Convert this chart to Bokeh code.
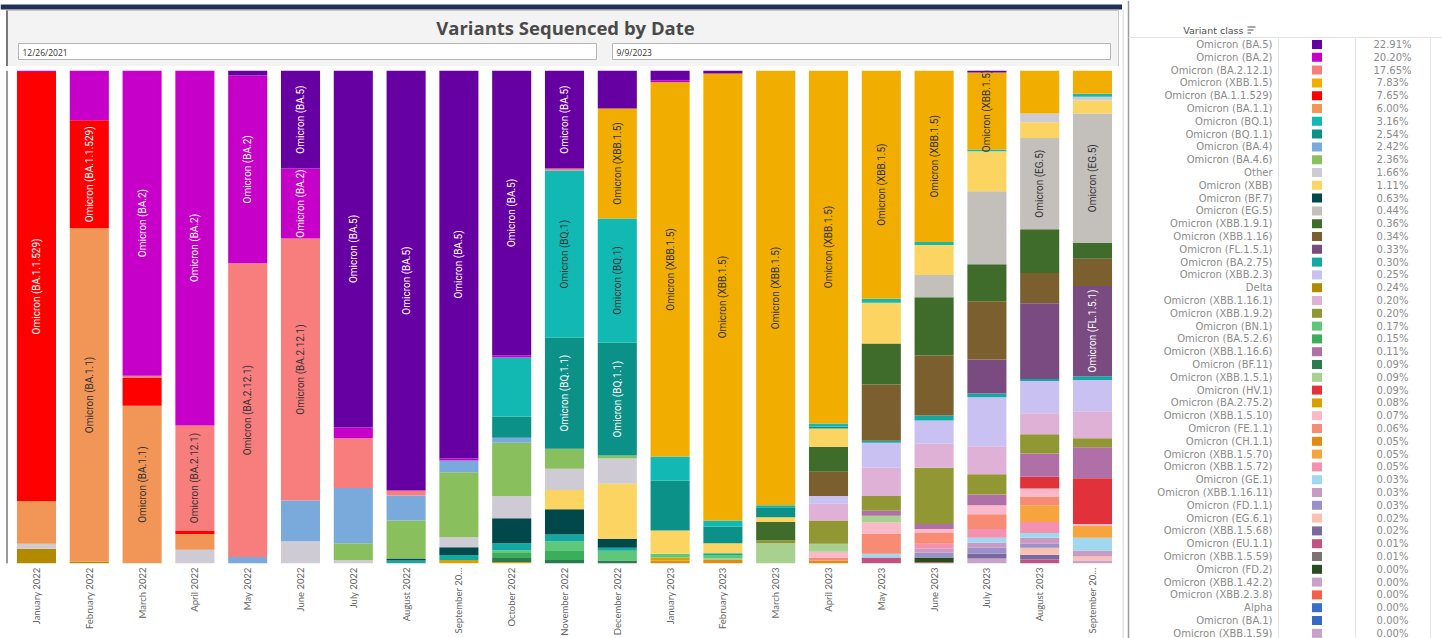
from math import pi
from bokeh.plotting import figure
from bokeh.layouts import row, column
from bokeh.models import ColumnDataSource, Range1d, FixedTicker
from bokeh.core.properties import value
from bokeh.embed import file_html
from bokeh.resources import INLINE

# ---------------- data ----------------
MONTHS = ["January 2022", "February 2022", "March 2022", "April 2022", "May 2022",
          "June 2022", "July 2022", "August 2022", "September 2022", "October 2022",
          "November 2022", "December 2022", "January 2023", "February 2023",
          "March 2023", "April 2023", "May 2023", "June 2023", "July 2023",
          "August 2023", "September 2023"]
MONTH_TICK_TEXT = {"September 2022": "September 20\u2026",
                   "September 2023": "September 20\u2026"}

VARIANTS = ["BA.5", "BA.2", "BA.2.12.1", "XBB.1.5", "BA.1.1.529", "BA.1.1", "BQ.1",
            "BQ.1.1", "BA.4", "BA.4.6", "Other", "XBB", "BF.7", "EG.5", "XBB.1.9.1",
            "XBB.1.16", "FL.1.5.1", "BA.2.75", "XBB.2.3", "Delta", "XBB.1.16.1",
            "XBB.1.9.2", "BN.1", "BA.5.2.6", "XBB.1.16.6", "BF.11", "XBB.1.5.1",
            "HV.1", "BA.2.75.2", "XBB.1.5.10", "FE.1.1", "CH.1.1", "XBB.1.5.70",
            "XBB.1.5.72", "GE.1", "XBB.1.16.11", "FD.1.1", "EG.6.1", "XBB.1.5.68",
            "EU.1.1", "XBB.1.5.59", "FD.2", "XBB.1.42.2", "XBB.2.3.8", "Alpha",
            "BA.1", "XBB.1.59"]
NON_OMICRON = {"Other", "Delta", "Alpha"}

COLORS = ["#6700a3", "#c700c9", "#f87e7e", "#f1ae00", "#ff0000", "#f29658", "#12b9b3",
          "#0c9188", "#7aaadc", "#8abf5e", "#cfcbd4", "#fcd462", "#01484a", "#c3bfbb",
          "#3f6b2b", "#7b5f2f", "#7a4b80", "#13a9a3", "#c9c1f1", "#b28a00", "#e0b1d6",
          "#919733", "#5fc77a", "#3aae5b", "#b06fa6", "#2a7b4f", "#a8d08e", "#e1323b",
          "#d9a000", "#f9b9c9", "#f78b73", "#e28b12", "#f8a43e", "#f391b1", "#a1d7ef",
          "#c99ac4", "#9a91c9", "#f8c1b3", "#79699f", "#c2527f", "#7a7273", "#2b4b22",
          "#c9a2c9", "#f26049", "#3a6fc9", "#3869c2", "#c8a2c8"]

SHARES = [22.91, 20.20, 17.65, 7.83, 7.65, 6.00, 3.16, 2.54, 2.42, 2.36, 1.66, 1.11,
          0.63, 0.44, 0.36, 0.34, 0.33, 0.30, 0.25, 0.24, 0.20, 0.20, 0.17, 0.15,
          0.11, 0.09, 0.09, 0.09, 0.08, 0.07, 0.06, 0.05, 0.05, 0.05, 0.03, 0.03,
          0.03, 0.02, 0.02, 0.01, 0.01, 0.00, 0.00, 0.00, 0.00, 0.00, 0.00]

JAN_22 = {"BA.2": 0.3, "BA.1.1.529": 87.0, "BA.1.1": 8.7, "Other": 1.0, "Delta": 3.0}
FEB_22 = {"BA.2": 10.1, "BA.1.1.529": 21.9, "BA.1.1": 67.6, "Delta": 0.4}
MAR_22 = {"BA.2": 61.9, "BA.2.12.1": 0.4, "BA.1.1.529": 5.7, "BA.1.1": 32.0}
APR_22 = {"BA.2": 72.0, "BA.2.12.1": 21.3, "BA.1.1.529": 0.7, "BA.1.1": 3.2, "Other": 2.8}
MAY_22 = {"BA.5": 1.0, "BA.2": 38.1, "BA.2.12.1": 59.6, "BA.4": 1.3}
JUN_22 = {"BA.5": 19.9, "BA.2": 14.2, "BA.2.12.1": 53.1, "BA.4": 8.3, "Other": 4.5}
JUL_22 = {"BA.5": 72.4, "BA.2": 2.2, "BA.2.12.1": 10.1, "BA.4": 11.2, "BA.4.6": 3.4,
          "Other": 0.7}
AUG_22 = {"BA.5": 85.2, "BA.2.12.1": 1.0, "BA.4": 5.1, "BA.4.6": 7.7, "BF.7": 0.4,
          "BA.2.75": 0.6}
SEP_22 = {"BA.5": 78.7, "BA.2": 0.4, "BA.4": 2.4, "BA.4.6": 13.2, "Other": 2.0,
          "BF.7": 1.6, "BA.2.75": 1.0, "BA.2.75.2": 0.7}
OCT_22 = {"BA.5": 57.8, "BA.2": 0.4, "BQ.1": 12.0, "BQ.1.1": 4.3, "BA.4": 1.0,
          "BA.4.6": 10.8, "Other": 4.5, "BF.7": 5.1, "BA.2.75": 1.4, "BN.1": 0.4,
          "BA.5.2.6": 1.2, "BF.11": 0.8, "BA.2.75.2": 0.3}
NOV_22 = {"BA.5": 19.9, "BA.2.12.1": 0.4, "BQ.1": 33.9, "BQ.1.1": 22.5, "BA.4.6": 4.1,
          "Other": 4.3, "XBB": 3.9, "BF.7": 5.1, "BA.2.75": 1.4, "BN.1": 1.8,
          "BA.5.2.6": 2.0, "BF.11": 0.7}
DEC_22 = {"BA.5": 7.7, "XBB.1.5": 22.3, "BQ.1": 25.2, "BQ.1.1": 22.9, "BA.4.6": 0.6,
          "Other": 5.1, "XBB": 11.2, "BF.7": 1.8, "BA.2.75": 0.6, "BN.1": 2.0,
          "BF.11": 0.6}
JAN_23 = {"BA.5": 2.0, "BA.2": 0.4, "XBB.1.5": 75.9, "BQ.1": 4.9, "BQ.1.1": 10.1,
          "XBB": 4.7, "BN.1": 0.8, "BA.2.75.2": 0.6, "CH.1.1": 0.6}
FEB_23 = {"BA.5": 0.6, "XBB.1.5": 90.7, "BQ.1": 1.2, "BQ.1.1": 3.4, "XBB": 2.0,
          "BA.2.75": 0.4, "BN.1": 0.6, "XBB.1.5.1": 0.4, "CH.1.1": 0.7}
MAR_23 = {"XBB.1.5": 88.2, "BQ.1": 0.4, "BQ.1.1": 2.0, "XBB": 1.0, "XBB.1.9.1": 3.7,
          "XBB.1.9.2": 0.6, "XBB.1.5.1": 4.1}
APR_23 = {"XBB.1.5": 71.6, "BQ.1": 0.6, "BQ.1.1": 0.4, "XBB": 3.7, "XBB.1.9.1": 5.1,
          "XBB.1.16": 4.9, "XBB.2.3": 1.6, "XBB.1.16.1": 3.4, "XBB.1.9.2": 4.7,
          "XBB.1.5.1": 1.6, "XBB.1.5.10": 1.2, "FE.1.1": 0.6, "CH.1.1": 0.6}
MAY_23 = {"XBB.1.5": 46.3, "BQ.1": 0.8, "XBB": 8.3, "XBB.1.9.1": 8.3, "XBB.1.16": 11.4,
          "BA.2.75": 0.4, "XBB.2.3": 5.1, "XBB.1.16.1": 5.7, "XBB.1.9.2": 3.0,
          "XBB.1.16.6": 1.0, "XBB.1.5.1": 1.4, "XBB.1.5.10": 2.2, "FE.1.1": 4.1,
          "GE.1": 0.8, "EU.1.1": 1.2}
JUN_23 = {"XBB.1.5": 34.8, "BQ.1": 0.6, "XBB": 6.1, "EG.5": 4.5, "XBB.1.9.1": 11.8,
          "XBB.1.16": 12.2, "BA.2.75": 1.0, "XBB.2.3": 4.7, "XBB.1.16.1": 4.9,
          "XBB.1.9.2": 11.4, "XBB.1.16.6": 1.0, "XBB.1.5.10": 0.8, "FE.1.1": 2.2,
          "XBB.1.5.72": 1.0, "XBB.1.16.11": 0.8, "FD.1.1": 1.0, "FD.2": 1.0,
          "XBB.2.3.8": 0.2}
JUL_23 = {"BA.5": 0.4, "XBB.1.5": 15.6, "BQ.1": 0.4, "XBB": 8.1, "EG.5": 14.8,
          "XBB.1.9.1": 7.5, "XBB.1.16": 11.8, "FL.1.5.1": 6.9, "BA.2.75": 0.8,
          "XBB.2.3": 9.9, "XBB.1.16.1": 5.7, "XBB.1.9.2": 4.1, "XBB.1.16.6": 2.2,
          "XBB.1.5.10": 1.8, "FE.1.1": 3.0, "XBB.1.5.72": 1.8, "GE.1": 1.0,
          "XBB.1.16.11": 1.0, "FD.1.1": 1.2, "XBB.1.5.68": 1.0, "XBB.1.42.2": 1.0}
AUG_23 = {"XBB.1.5": 8.7, "Other": 1.8, "XBB": 3.2, "EG.5": 18.5, "XBB.1.9.1": 8.9,
          "XBB.1.16": 6.1, "FL.1.5.1": 15.4, "BA.2.75": 0.4, "XBB.2.3": 6.5,
          "XBB.1.16.1": 4.3, "XBB.1.9.2": 3.9, "XBB.1.16.6": 4.7, "HV.1": 2.4,
          "XBB.1.5.10": 1.6, "FE.1.1": 1.8, "XBB.1.5.70": 3.4, "XBB.1.5.72": 2.2,
          "GE.1": 1.0, "XBB.1.16.11": 1.2, "FD.1.1": 0.8, "EG.6.1": 1.4,
          "XBB.1.5.68": 1.0, "EU.1.1": 0.8}
SEP_23 = {"XBB.1.5": 4.7, "BQ.1": 0.6, "Other": 0.8, "XBB": 2.6, "EG.5": 26.3,
          "XBB.1.9.1": 3.2, "XBB.1.16": 5.5, "FL.1.5.1": 18.3, "BA.2.75": 0.8,
          "XBB.2.3": 6.3, "XBB.1.16.1": 5.5, "XBB.1.9.2": 1.8, "XBB.1.16.6": 6.3,
          "HV.1": 9.3, "XBB.1.5.10": 0.4, "XBB.1.5.70": 2.4, "GE.1": 2.6,
          "XBB.1.16.11": 1.2, "EG.6.1": 0.8, "XBB.1.42.2": 0.6}

MONTH_MIX = [JAN_22, FEB_22, MAR_22, APR_22, MAY_22, JUN_22, JUL_22, AUG_22, SEP_22,
             OCT_22, NOV_22, DEC_22, JAN_23, FEB_23, MAR_23, APR_23, MAY_23, JUN_23,
             JUL_23, AUG_23, SEP_23]

LABELED = [("January 2022", "BA.1.1.529"), ("February 2022", "BA.1.1.529"),
           ("February 2022", "BA.1.1"), ("March 2022", "BA.2"), ("March 2022", "BA.1.1"),
           ("April 2022", "BA.2"), ("April 2022", "BA.2.12.1"), ("May 2022", "BA.2"),
           ("May 2022", "BA.2.12.1"), ("June 2022", "BA.5"), ("June 2022", "BA.2"),
           ("June 2022", "BA.2.12.1"), ("July 2022", "BA.5"), ("August 2022", "BA.5"),
           ("September 2022", "BA.5"), ("October 2022", "BA.5"),
           ("November 2022", "BA.5"), ("November 2022", "BQ.1"),
           ("November 2022", "BQ.1.1"), ("December 2022", "XBB.1.5"),
           ("December 2022", "BQ.1"), ("December 2022", "BQ.1.1"),
           ("January 2023", "XBB.1.5"), ("February 2023", "XBB.1.5"),
           ("March 2023", "XBB.1.5"), ("April 2023", "XBB.1.5"), ("May 2023", "XBB.1.5"),
           ("June 2023", "XBB.1.5"), ("July 2023", "XBB.1.5"), ("August 2023", "EG.5"),
           ("September 2023", "EG.5"), ("September 2023", "FL.1.5.1")]


def display_name(code):
    return code if code in NON_OMICRON else f"Omicron ({code})"


def is_dark(hex_color):
    r, g, b = (int(hex_color[i:i + 2], 16) for i in (1, 3, 5))
    return 0.299 * r + 0.587 * g + 0.114 * b < 128


# normalise each month to 100 %
values = []
for code in VARIANTS:
    values.append([mix.get(code, 0.0) * 100.0 / sum(mix.values()) for mix in MONTH_MIX])

idx = list(range(len(MONTHS)))
data = {"idx": idx}
for i in range(len(VARIANTS)):
    data[f"v{i}"] = values[i]
src = ColumnDataSource(data)

# ---------------- layout constants (pixels) ----------------
LEFT_W = 1122
HDR_H = 66
BARS_H = 638 - HDR_H
FIRST_CENTER_PX = 36.0
STEP_PX = 52.8

# ---------------- header ----------------
hdr = figure(width=LEFT_W, height=HDR_H, x_range=Range1d(0, LEFT_W),
             y_range=Range1d(HDR_H, 0), output_backend="svg", toolbar_location=None,
             x_axis_location=None, y_axis_location=None, min_border=0)
hdr.outline_line_color = None
hdr.grid.visible = False
hdr.quad(left=[0], right=[1128], top=[4], bottom=[9], fill_color="#24305a",
         line_color=None)
hdr.quad(left=[6], right=[1118], top=[10], bottom=[HDR_H + 2], fill_color="#f3f3f3",
         line_color="#c8c8c8", line_width=1)
hdr.segment(x0=[6.5], y0=[10], x1=[6.5], y1=[HDR_H], line_color="#555555", line_width=1.5)
hdr.text(x=[565], y=[27], text=["Variants Sequenced by Date"], text_align="center",
         text_baseline="middle", text_font=value("Open Sans"), text_font_style="bold",
         text_font_size="18.5px", text_color="#4a4a4a")
hdr.quad(left=[18, 612], right=[596, 1110], top=[43, 43], bottom=[59, 59],
         fill_color="#ffffff", line_color="#b5b5b5", line_width=1)
hdr.text(x=[22, 616], y=[51.5, 51.5], text=["12/26/2021", "9/9/2023"], text_align="left",
         text_baseline="middle", text_font=value("Open Sans"), text_font_size="8.5px",
         text_color="#333333")

# ---------------- bars ----------------
x_lo = (0 - FIRST_CENTER_PX) / STEP_PX
x_hi = (LEFT_W - FIRST_CENTER_PX) / STEP_PX
p = figure(x_range=Range1d(x_lo, x_hi), y_range=Range1d(0, 100), width=LEFT_W,
           height=BARS_H, output_backend="svg", toolbar_location=None,
           y_axis_location=None, min_border_left=0, min_border_right=0,
           min_border_top=4, min_border_bottom=BARS_H - 4 - 493)
p.outline_line_color = None
p.grid.visible = False
p.background_fill_color = "#ffffff"
p.border_fill_color = "#ffffff"

stackers = [f"v{i}" for i in reversed(range(len(VARIANTS)))]
p.vbar_stack(stackers, x="idx", width=0.74, source=src,
             fill_color=list(reversed(COLORS)), line_color=None)
p.segment(x0=[(6.5 - FIRST_CENTER_PX) / STEP_PX], y0=[0],
          x1=[(6.5 - FIRST_CENTER_PX) / STEP_PX], y1=[100],
          line_color="#777777", line_width=1.5)

lab_x, lab_y, lab_t, lab_c = [], [], [], []
for month, code in LABELED:
    mi = MONTHS.index(month)
    vi = VARIANTS.index(code)
    below = sum(values[j][mi] for j in range(vi + 1, len(VARIANTS)))
    lab_x.append(mi)
    lab_y.append(below + values[vi][mi] / 2.0)
    lab_t.append(display_name(code))
    lab_c.append("#ffffff" if is_dark(COLORS[vi]) else "#333333")
p.text(x=lab_x, y=lab_y, text=lab_t, text_color=lab_c, angle=pi / 2,
       text_align="center", text_baseline="middle", text_font=value("Roboto"),
       text_font_size="10px")

ax = p.xaxis[0]
ax.ticker = FixedTicker(ticks=idx)
ax.major_label_overrides = {i: MONTH_TICK_TEXT.get(m, m) for i, m in enumerate(MONTHS)}
ax.major_label_orientation = pi / 2
ax.axis_line_color = None
ax.major_tick_line_color = None
ax.minor_tick_line_color = None
ax.major_tick_out = 0
ax.major_tick_in = 0
ax.minor_tick_out = 0
ax.minor_tick_in = 0
ax.major_label_standoff = 4
ax.major_label_text_font = "Lato"
ax.major_label_text_font_size = "9.5px"
ax.major_label_text_color = "#666666"

# ---------------- legend ----------------
LW, LH = 1442 - LEFT_W, 638
lg = figure(width=LW, height=LH, x_range=Range1d(0, LW), y_range=Range1d(LH, 0),
            output_backend="svg", toolbar_location=None, x_axis_location=None,
            y_axis_location=None, min_border=0)
lg.outline_line_color = None
lg.grid.visible = False
lg.segment(x0=[0.5, 6], y0=[10, 0], x1=[0.5, 6], y1=[LH, LH],
           line_color=["#c8c8c8", "#9a9a9a"], line_width=[1, 1.5])
lg.segment(x0=[6], y0=[37], x1=[LW], y1=[37], line_color="#e2e2e2", line_width=1)
lg.segment(x0=[156, 233, 308], y0=[37, 37, 37], x1=[156, 233, 308], y1=[LH, LH, LH],
           line_color="#e6e6e6", line_width=1)
lg.text(x=[121], y=[30], text=["Variant class"], text_align="right",
        text_baseline="middle", text_font=value("DejaVu Sans"), text_font_size="9.5px",
        text_color="#555555")
lg.segment(x0=[125, 125, 125], y0=[26.5, 29.5, 32.5], x1=[133, 131, 128.5],
           y1=[26.5, 29.5, 32.5], line_color="#555555", line_width=1.2)

row_y = [44 + i * 12.8 for i in range(len(VARIANTS))]
lg.text(x=[150] * len(VARIANTS), y=row_y, text=[display_name(c) for c in VARIANTS],
        text_align="right", text_baseline="middle", text_font=value("DejaVu Sans"),
        text_font_size="10px", text_color="#8c8c8c")
lg.rect(x=[194.5] * len(VARIANTS), y=row_y, width=10, height=9, fill_color=COLORS,
        line_color=None)
lg.text(x=[270] * len(VARIANTS), y=row_y, text=[f"{s:.2f}%" for s in SHARES],
        text_align="center", text_baseline="middle", text_font=value("DejaVu Sans"),
        text_font_size="10px", text_color="#8c8c8c")

layout = row(column(hdr, p, spacing=0), lg, spacing=0)
open("out.html", "w").write(file_html(layout, INLINE))
